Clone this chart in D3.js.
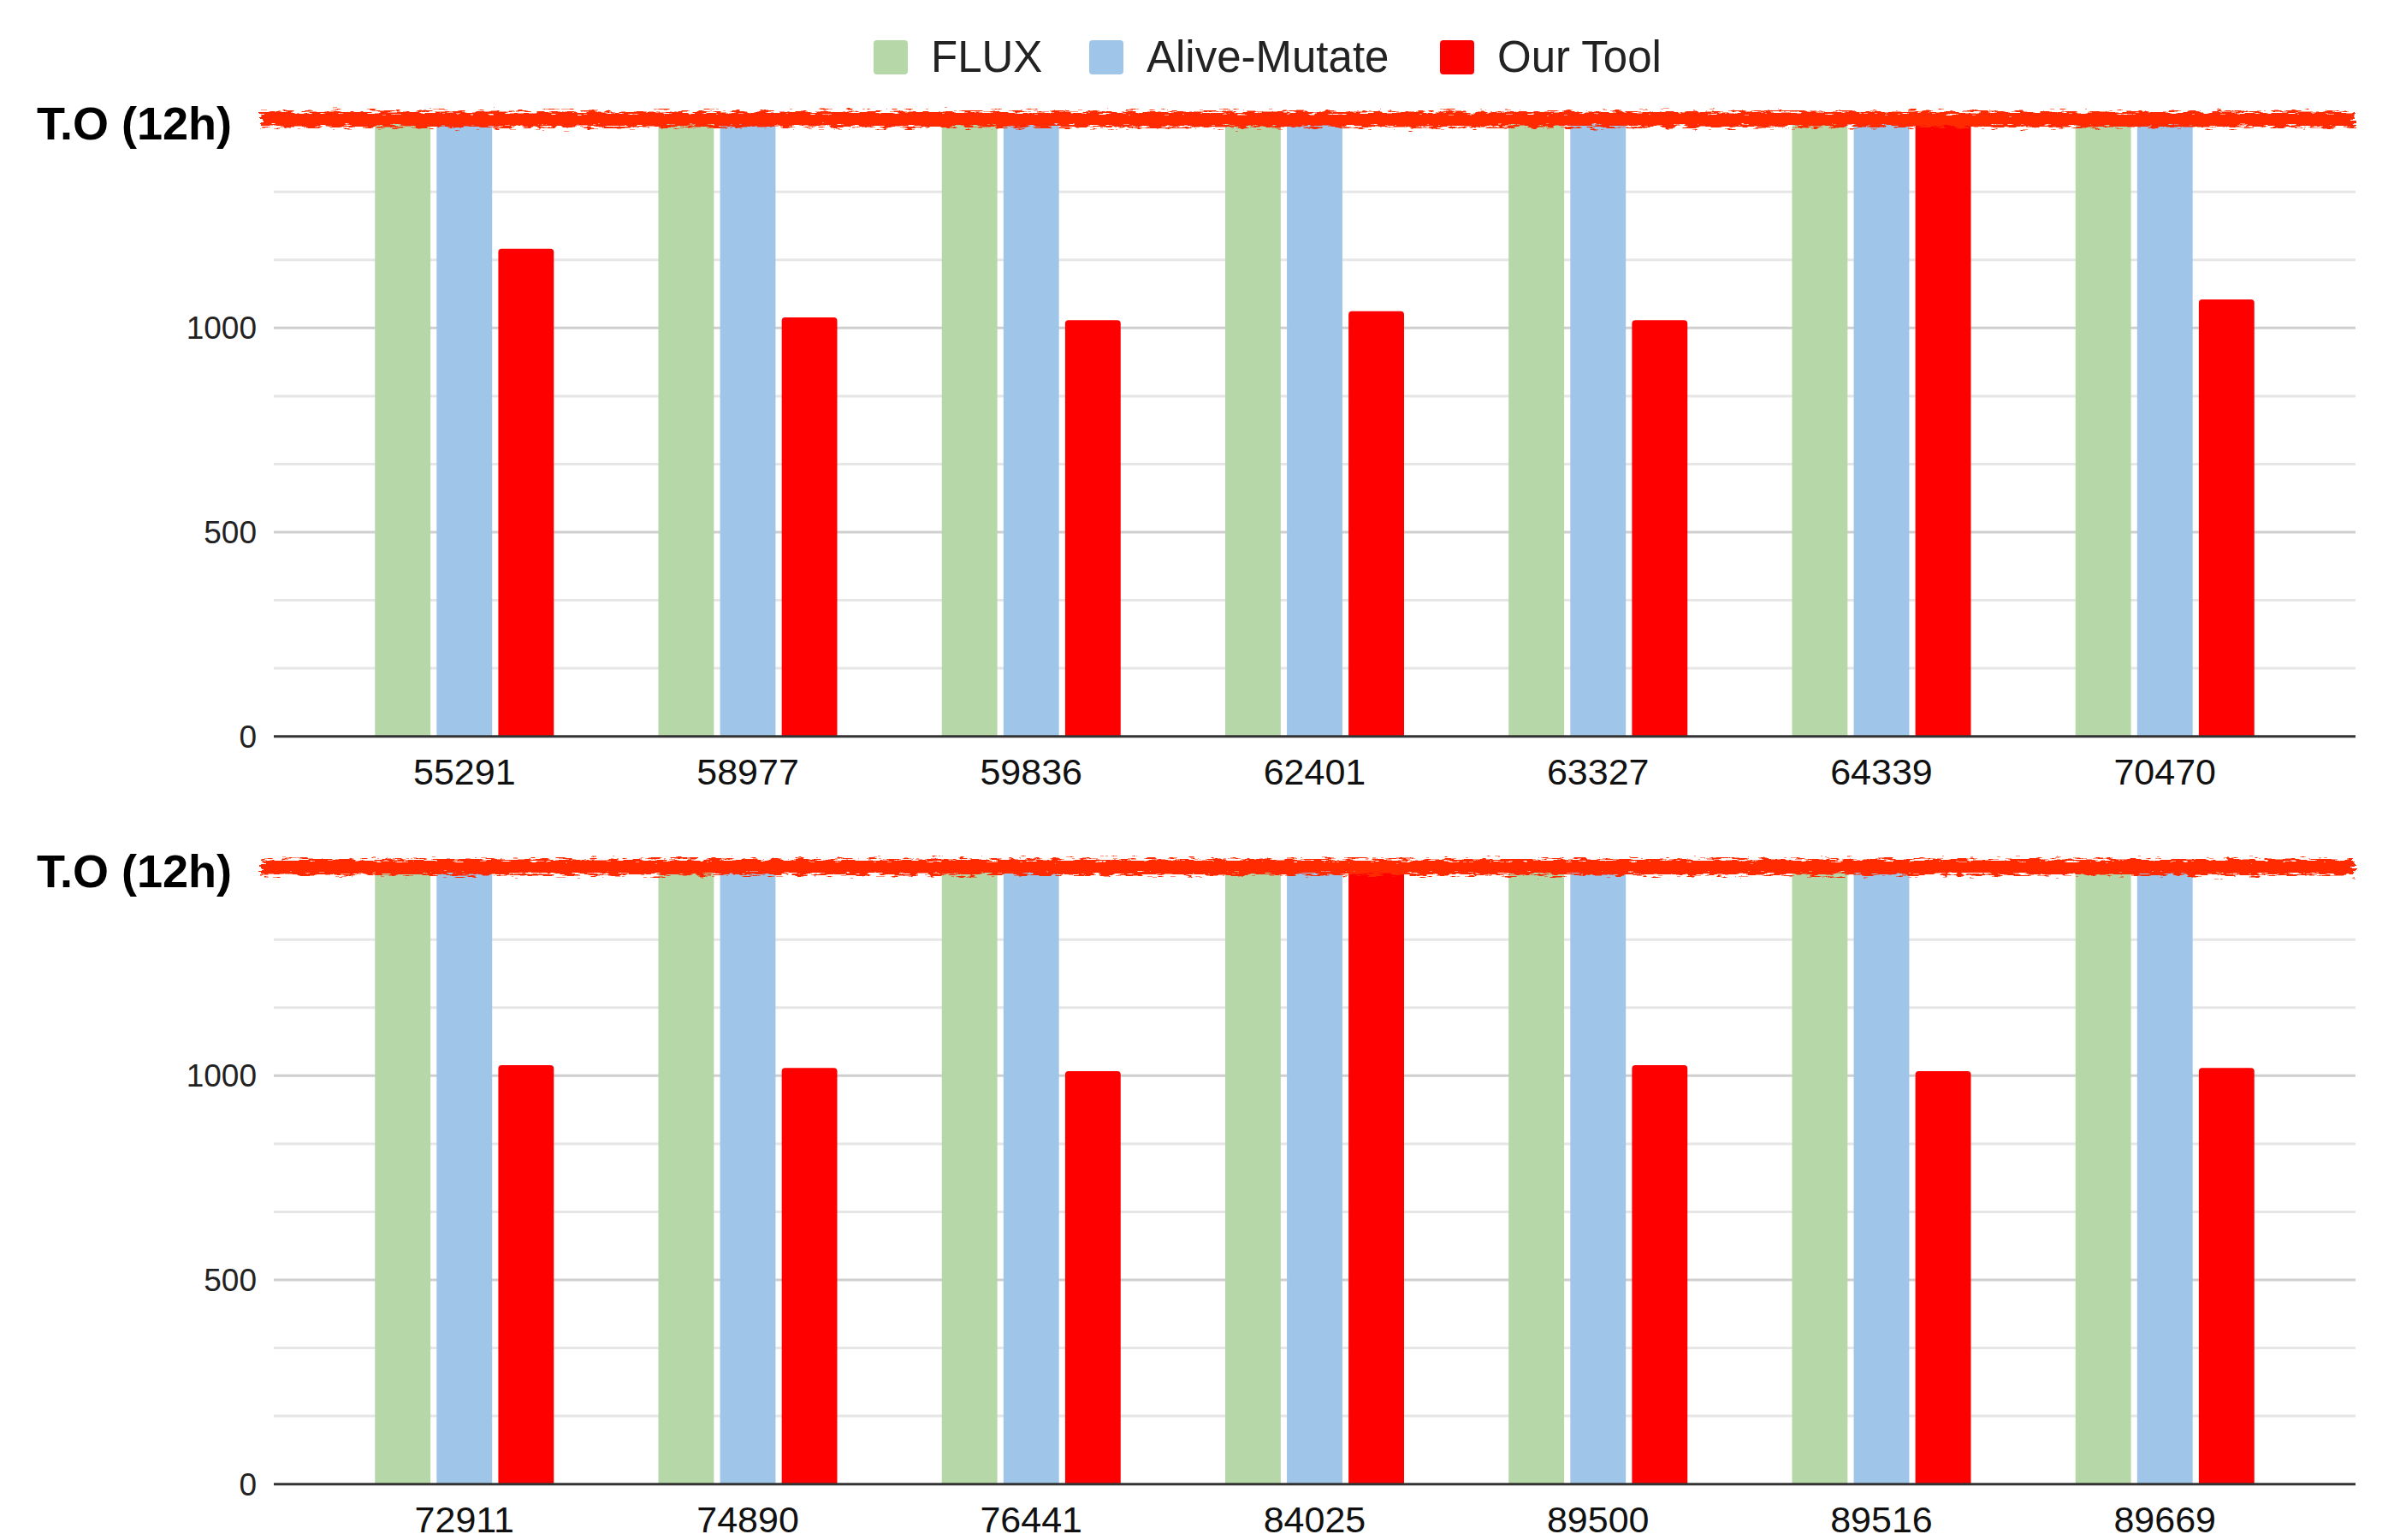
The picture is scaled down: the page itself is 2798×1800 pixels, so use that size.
<!DOCTYPE html>
<html>
<head>
<meta charset="utf-8">
<script src="https://cdn.jsdelivr.net/npm/d3@7"></script>
<style>
  body { margin: 0; background: #fff; }
  text { font-family: "Liberation Sans", Arial, sans-serif; }
</style>
</head>
<body>
<svg id="chart" width="2798" height="1800"></svg>
<script>
// series + colours
var seriesNames = ["FLUX", "Alive-Mutate", "Our Tool"];
var seriesColors = ["#b6d7a8", "#9fc5e8", "#ff0000"];

// timeout (12h) is drawn at the top of the axis
var timeoutValue = 1500;
var yTicks = [0, 500, 1000];
var yGrid = [0, 166.7, 333.3, 500, 666.7, 833.3, 1000, 1166.7, 1333.3, 1500];

var topCases = ["55291", "58977", "59836", "62401", "63327", "64339", "70470"];
var topFlux = [1500, 1500, 1500, 1500, 1500, 1500, 1500];
var topAlive = [1500, 1500, 1500, 1500, 1500, 1500, 1500];
var topOurs = [1194, 1026, 1019, 1041, 1019, 1500, 1070];

var bottomCases = ["72911", "74890", "76441", "84025", "89500", "89516", "89669"];
var bottomFlux = [1500, 1500, 1500, 1500, 1500, 1500, 1500];
var bottomAlive = [1500, 1500, 1500, 1500, 1500, 1500, 1500];
var bottomOurs = [1026, 1019, 1011, 1500, 1026, 1011, 1019];

var svg = d3.select('#chart');

svg.append('rect')
  .attr('width', 2798)
  .attr('height', 1800)
  .attr('fill', '#fff');

// rough marker look for the timeout line
var defs = svg.append('defs');
var rough = defs.append('filter')
  .attr('id', 'rough')
  .attr('filterUnits', 'userSpaceOnUse')
  .attr('x', 0).attr('y', 0)
  .attr('width', 2798).attr('height', 1800);
rough.append('feTurbulence')
  .attr('type', 'fractalNoise')
  .attr('baseFrequency', '0.07 0.45')
  .attr('numOctaves', 3)
  .attr('seed', 3)
  .attr('result', 'noise');
rough.append('feDisplacementMap')
  .attr('in', 'SourceGraphic')
  .attr('in2', 'noise')
  .attr('scale', 14)
  .attr('xChannelSelector', 'R')
  .attr('yChannelSelector', 'G');

function roundedTop(x, y, w, h, r) {
  r = Math.min(r, h);
  return 'M' + x + ',' + (y + h) +
    'V' + (y + r) +
    'Q' + x + ',' + y + ' ' + (x + r) + ',' + y +
    'H' + (x + w - r) +
    'Q' + (x + w) + ',' + y + ' ' + (x + w) + ',' + (y + r) +
    'V' + (y + h) + 'Z';
}

// legend
var legendX = [1021, 1273, 1683];
var legend = svg.append('g');
seriesNames.forEach((name, i) => {
  legend.append('rect')
    .attr('x', legendX[i])
    .attr('y', 47)
    .attr('width', 40)
    .attr('height', 40)
    .attr('rx', 4)
    .attr('fill', seriesColors[i]);
  legend.append('text')
    .attr('x', legendX[i] + 67)
    .attr('y', 84)
    .attr('font-size', 51)
    .attr('fill', '#222')
    .text(name);
});

function drawPanel(cases, flux, alive, ours, offsetY) {
  var left = 320, right = 2753;
  var g = svg.append('g');

  var y = d3.scaleLinear()
            .domain([0, timeoutValue])
            .range([860.7 + offsetY, 144.6 + offsetY]);

  var x0 = d3.scaleBand()
             .domain(cases)
             .range([left, right])
             .paddingInner(0.369)
             .paddingOuter(0.357);

  var x1 = d3.scaleBand()
             .domain(seriesNames)
             .range([0, x0.bandwidth()])
             .paddingInner(0.1);

  // gridlines
  g.selectAll('line.grid')
    .data(yGrid.filter(v => v > 0))
    .enter()
    .append('line')
      .attr('class', 'grid')
      .attr('x1', left)
      .attr('x2', right)
      .attr('y1', d => y(d))
      .attr('y2', d => y(d))
      .attr('stroke', d => yTicks.indexOf(d) >= 0 ? '#cfcfcf' : '#e6e6e6')
      .attr('stroke-width', 3);

  // y tick labels
  g.selectAll('text.ytick')
    .data(yTicks)
    .enter()
    .append('text')
      .attr('class', 'ytick')
      .attr('x', 300)
      .attr('y', d => y(d) + 13)
      .attr('text-anchor', 'end')
      .attr('font-size', 37)
      .attr('fill', '#222')
      .text(d => d);

  g.append('text')
    .attr('x', 43)
    .attr('y', y(timeoutValue) + 18)
    .attr('font-size', 54)
    .attr('font-weight', 'bold')
    .attr('fill', '#000')
    .text('T.O (12h)');

  var rows = cases.map((c, i) => ({ key: c, values: [flux[i], alive[i], ours[i]] }));

  var groups = g.selectAll('g.case')
    .data(rows)
    .enter()
    .append('g')
      .attr('class', 'case')
      .attr('transform', d => 'translate(' + x0(d.key) + ',0)');

  groups.selectAll('path')
    .data(d => d.values.map((v, i) => ({ series: seriesNames[i], color: seriesColors[i], value: v })))
    .enter()
    .append('path')
      .attr('fill', d => d.color)
      .attr('d', d => roundedTop(x1(d.series), y(d.value), x1.bandwidth(), y(0) - y(d.value), 4));

  // baseline
  g.append('line')
    .attr('x1', left)
    .attr('x2', right)
    .attr('y1', y(0))
    .attr('y2', y(0))
    .attr('stroke', '#333')
    .attr('stroke-width', 3);

  // category labels
  g.selectAll('text.xlab')
    .data(cases)
    .enter()
    .append('text')
      .attr('class', 'xlab')
      .attr('x', d => x0(d) + x0.bandwidth() / 2)
      .attr('y', y(0) + 56)
      .attr('text-anchor', 'middle')
      .attr('font-size', 43)
      .attr('fill', '#111')
      .text(d => d);

  // scribbled timeout line
  g.append('line')
    .attr('x1', 306)
    .attr('x2', 2752)
    .attr('y1', y(timeoutValue) - 5)
    .attr('y2', y(timeoutValue) - 5)
    .attr('stroke', '#ff2a00')
    .attr('stroke-width', 18)
    .attr('filter', 'url(#rough)');
}

drawPanel(topCases, topFlux, topAlive, topOurs, 0);
drawPanel(bottomCases, bottomFlux, bottomAlive, bottomOurs, 874);
</script>
</body>
</html>
